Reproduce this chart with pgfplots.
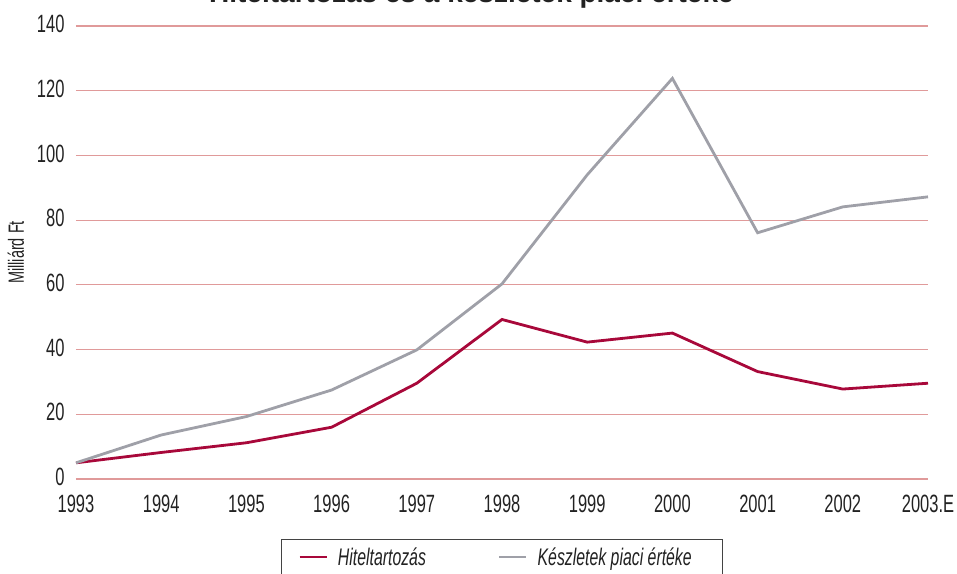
\documentclass[border=0pt]{standalone}
\usepackage{fontspec}
\setmainfont{Liberation Sans}[FakeStretch=0.66]
\newfontfamily\titlefont{Liberation Sans}
\usepackage{pgfplots}
\pgfplotsset{compat=1.18}
\definecolor{redline}{HTML}{A8083A}
\definecolor{grayline}{HTML}{9FA0A8}
\definecolor{gridred}{HTML}{E09A9A}
\definecolor{txt}{HTML}{222222}
\begin{document}
\begin{tikzpicture}[x=1pt,y=1pt]
\begin{axis}[
  at={(0,0)}, anchor=south west,
  scale only axis, width=852pt, height=453pt,
  xmin=0, xmax=10, ymin=0, ymax=140,
  xtick={0,...,10},
  xticklabels={1993,1994,1995,1996,1997,1998,1999,2000,2001,2002,2003.E},
  ytick={0,20,...,140},
  axis line style={draw=none},
  tick style={draw=none},
  ymajorgrids, grid style={gridred, line width=1.1pt},
  ticklabel style={font=\fontsize{25}{27}\selectfont, text=txt},
  /pgf/number format/assume math mode=true,
  yticklabel style={xshift=-8pt, yshift=2pt},
  xticklabel style={yshift=-13pt},
  ylabel={Milliárd Ft},
  ylabel style={font=\fontsize{22}{24}\selectfont, text=txt, yshift=6pt},
  legend columns=2,
  legend style={at={(0.5,-0.1325)}, anchor=north, draw=txt!85, line width=1.1pt,
    font=\itshape\fontsize{24}{26}\selectfont, text=txt,
    inner xsep=17pt, inner ysep=6pt,
    /tikz/every even column/.append style={column sep=70pt}},
  legend image code/.code={\draw[#1, line width=2.6pt] (0pt,0pt) -- (27pt,0pt); \path (35pt,0pt);},
]
\addplot[redline, line width=2.8pt] coordinates {
 (0,5.0) (1,8.2) (2,11.2) (3,16.0) (4,29.6) (5,49.3) (6,42.3) (7,45.1) (8,33.2) (9,27.8) (10,29.6)};
\addlegendentry{Hiteltartozás}
\addplot[grayline, line width=2.8pt] coordinates {
 (0,5.0) (1,13.6) (2,19.3) (3,27.5) (4,39.9) (5,60.3) (6,94.0) (7,123.8) (8,76.1) (9,84.1) (10,87.2)};
\addlegendentry{Készletek piaci értéke\hspace*{12pt}\mbox{}}
\end{axis}
\node[anchor=base, font=\titlefont\bfseries\fontsize{28}{30}\selectfont, text=txt] at (395.5pt,476pt) {Hiteltartozás és a készletek piaci értéke};
\pgfresetboundingbox
\path[use as bounding box] (-76pt,-94pt) rectangle (881pt,479pt);
\end{tikzpicture}
\end{document}
